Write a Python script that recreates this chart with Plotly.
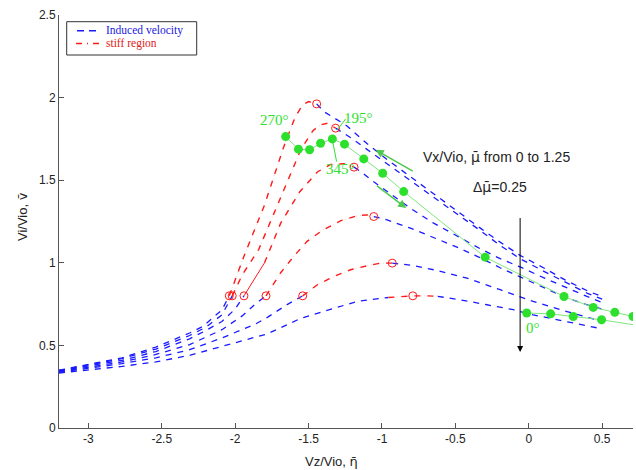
import plotly.graph_objects as go

# ---------------- data ----------------
mu_labels = ["0", "0.25", "0.5", "0.75", "1.0", "1.25"]

# induced velocity, left branches, up to the start of the stiff region
left_x = [
    [-3.2, -3.0, -2.77, -2.54, -2.31, -2.22, -2.165, -2.09, -2.04],
    [-3.2, -3.0, -2.77, -2.54, -2.31, -2.2, -2.09, -2.02],
    [-3.2, -3.0, -2.77, -2.54, -2.31, -2.2, -2.09, -2.0, -1.94],
    [-3.2, -3.0, -2.77, -2.54, -2.31, -2.2, -2.09, -1.95, -1.87, -1.79],
    [-3.2, -3.0, -2.77, -2.54, -2.31, -2.09, -1.86, -1.78, -1.65, -1.54],
    [-3.2, -3.0, -2.77, -2.54, -2.31, -2.09, -1.86, -1.78, -1.55, -1.37, -1.17, -0.956],
]
left_y = [
    [0.35, 0.385, 0.425, 0.49, 0.575, 0.615, 0.655, 0.715, 0.80],
    [0.348, 0.38, 0.42, 0.478, 0.56, 0.61, 0.685, 0.80],
    [0.345, 0.375, 0.41, 0.463, 0.54, 0.59, 0.645, 0.72, 0.80],
    [0.34, 0.37, 0.40, 0.445, 0.505, 0.55, 0.595, 0.68, 0.745, 0.80],
    [0.337, 0.36, 0.39, 0.425, 0.474, 0.545, 0.63, 0.67, 0.745, 0.80],
    [0.333, 0.35, 0.373, 0.40, 0.44, 0.494, 0.55, 0.57, 0.665, 0.715, 0.766, 0.79],
]

# induced velocity, right branches after the stiff region
right_x = [
    [-1.445, -1.395, -1.24, -1.10, -0.965, -0.806, -0.648, -0.489, -0.33, -0.195, -0.059, 0.1, 0.25, 0.4, 0.5],
    [-1.316, -1.2, -1.1, -0.965, -0.806, -0.648, -0.489, -0.33, -0.195, -0.059, 0.1, 0.25, 0.4, 0.5],
    [-1.19, -1.135, -1.056, -0.965, -0.806, -0.648, -0.489, -0.33, -0.195, -0.059, 0.1, 0.25, 0.4, 0.5],
    [-1.056, -0.965, -0.806, -0.648, -0.489, -0.33, -0.195, -0.059, 0.1, 0.25, 0.4, 0.5],
    [-0.93, -0.80, -0.648, -0.42, -0.195, 0.03, 0.26, 0.5],
    [-0.62, -0.467, -0.285, -0.105, 0.03, 0.26, 0.5],
]
right_y = [
    [1.962, 1.915, 1.83, 1.72, 1.625, 1.52, 1.415, 1.315, 1.21, 1.125, 1.045, 0.97, 0.895, 0.83, 0.795],
    [1.815, 1.75, 1.685, 1.60, 1.495, 1.395, 1.295, 1.195, 1.105, 1.025, 0.95, 0.88, 0.815, 0.78],
    [1.579, 1.545, 1.49, 1.43, 1.33, 1.24, 1.16, 1.085, 1.025, 0.975, 0.91, 0.85, 0.795, 0.76],
    [1.28, 1.26, 1.21, 1.155, 1.095, 1.03, 0.97, 0.915, 0.85, 0.79, 0.745, 0.72],
    [0.998, 0.985, 0.958, 0.907, 0.837, 0.766, 0.705, 0.645],
    [0.797, 0.776, 0.746, 0.716, 0.685, 0.645, 0.60],
]

# stiff regions
stiff_x = [
    [-2.04, -1.94, -1.80, -1.67, -1.59, -1.54, -1.50, -1.445],
    [-2.02, -1.95, -1.84, -1.73, -1.63, -1.55, -1.47, -1.42, -1.37, -1.316],
    [-1.80, -1.69, -1.56, -1.44, -1.35, -1.26, -1.19],
    [-1.79, -1.69, -1.60, -1.51, -1.40, -1.28, -1.17, -1.10, -1.056],
    [-1.54, -1.44, -1.327, -1.214, -1.10, -1.01, -0.93],
    [-0.956, -0.87, -0.79, -0.70, -0.62],
]
stiff_y = [
    [0.80, 1.04, 1.35, 1.70, 1.885, 1.956, 1.976, 1.962],
    [0.80, 0.93, 1.08, 1.31, 1.53, 1.69, 1.80, 1.835, 1.845, 1.815],
    [1.0, 1.24, 1.43, 1.55, 1.595, 1.60, 1.579],
    [0.80, 0.94, 1.04, 1.13, 1.20, 1.255, 1.285, 1.29, 1.28],
    [0.80, 0.867, 0.917, 0.958, 0.982, 0.998, 0.998],
    [0.79, 0.797, 0.80, 0.80, 0.797],
]
stiff_solid_x = [-1.94, -1.80]
stiff_solid_y = [0.80, 1.0]

circle_x = [-2.04, -2.02, -1.94, -1.79, -1.54, -1.445, -1.316, -1.19, -1.056, -0.93, -0.79]
circle_y = [0.80, 0.80, 0.80, 0.80, 0.80, 1.962, 1.815, 1.579, 1.28, 0.998, 0.80]

# azimuth trajectory (green)
green_up_x = [-1.656, -1.569, -1.493, -1.418, -1.338, -1.255, -1.124, -0.995, -0.852, -0.297, 0.24, 0.439, 0.586, 0.71]
green_up_y = [1.764, 1.688, 1.684, 1.724, 1.75, 1.718, 1.629, 1.542, 1.431, 1.034, 0.796, 0.730, 0.70, 0.675]
green_lo_x = [-0.014, 0.149, 0.303, 0.496, 0.75]
green_lo_y = [0.696, 0.691, 0.675, 0.655, 0.62]

x_ticks = [-3, -2.5, -2, -1.5, -1, -0.5, 0, 0.5]
x_ticktext = ["-3", "-2.5", "-2", "-1.5", "-1", "-0.5", "0", "0.5"]
y_ticks = [0, 0.5, 1, 1.5, 2, 2.5]
y_ticktext = ["0", "0.5", "1", "1.5", "2", "2.5"]

azimuth_labels = ["270°", "195°", "345°", "0°"]
azimuth_pos = [(-1.735, 1.865), (-1.158, 1.875), (-1.282, 1.567), (0.031, 0.605)]

# ---------------- figure ----------------
W, H = 636, 470
ML, MR, MT, MB = 59, 3, 15, 42
BLUE = "#1a1aff"
RED = "#ff1a1a"
PINK = "#ffc0c0"
GREEN = "#2ee02e"
BAR = lambda c: '<span style="font-family:DejaVu Sans">' + c + '\u0304</span>'
fig = go.Figure()

for i in range(6):
    fig.add_trace(go.Scatter(x=left_x[i], y=left_y[i], mode="lines",
                             line=dict(color=BLUE, width=1.3, dash="6px,6px"),
                             showlegend=False, hoverinfo="skip"))
    fig.add_trace(go.Scatter(x=right_x[i], y=right_y[i], mode="lines",
                             line=dict(color=BLUE, width=1.3, dash="6px,6px"),
                             showlegend=False, hoverinfo="skip"))
    fig.add_trace(go.Scatter(x=stiff_x[i], y=stiff_y[i], mode="lines",
                             line=dict(color=PINK, width=0.8, dash="1px,3px"),
                             showlegend=False, hoverinfo="skip"))
    fig.add_trace(go.Scatter(x=stiff_x[i], y=stiff_y[i], mode="lines",
                             line=dict(color=RED, width=1.4, dash="6px,7px"),
                             showlegend=False, hoverinfo="skip"))

fig.add_trace(go.Scatter(x=stiff_solid_x, y=stiff_solid_y, mode="lines",
                         line=dict(color=RED, width=1), showlegend=False))
fig.add_trace(go.Scatter(x=circle_x, y=circle_y, mode="markers",
                         marker=dict(symbol="circle-open", size=8, color=RED,
                                     line=dict(width=1, color=RED)),
                         showlegend=False))
fig.add_trace(go.Scatter(x=green_up_x, y=green_up_y, mode="lines+markers",
                         line=dict(color="#7ee67e", width=1),
                         marker=dict(size=9, color=GREEN), showlegend=False))
fig.add_trace(go.Scatter(x=green_lo_x, y=green_lo_y, mode="lines+markers",
                         line=dict(color="#7ee67e", width=1),
                         marker=dict(size=9, color=GREEN), showlegend=False))

ann = []
for t, (ax_, ay_) in zip(azimuth_labels, azimuth_pos):
    ann.append(dict(x=ax_, y=ay_, text=t, showarrow=False,
                    font=dict(family="Liberation Serif", size=15, color=GREEN)))

ann.append(dict(x=-0.223, y=1.64, text="Vx/Vio, " + BAR("\u03bc") + " from 0 to 1.25", showarrow=False,
                xanchor="center", yanchor="middle",
                font=dict(family="Liberation Sans", size=14, color="#222")))
ann.append(dict(x=-0.195, y=1.46, text="\u0394" + BAR("\u03bc") + "=0.25", showarrow=False,
                xanchor="center", yanchor="middle",
                font=dict(family="Liberation Sans", size=14, color="#222")))

# arrows
ann.append(dict(x=-0.059, y=0.46, ax=-0.059, ay=1.28, axref="x", ayref="y",
                showarrow=True, arrowhead=2, arrowsize=1.2, arrowwidth=1, arrowcolor="black", text=""))
ann.append(dict(x=-1.044, y=1.684, ax=-0.78, ay=1.55, axref="x", ayref="y",
                showarrow=True, arrowhead=2, arrowsize=1.1, arrowwidth=1.5, arrowcolor="#4fc84f", text=""))
ann.append(dict(x=-0.834, y=1.331, ax=-1.044, ay=1.472, axref="x", ayref="y",
                showarrow=True, arrowhead=2, arrowsize=1.1, arrowwidth=1.5, arrowcolor="#4fc84f", text=""))

# axis titles
pw, ph = W - ML - MR, H - MT - MB
def px2paper(px, py):
    return (px - ML) / pw, (H - MB - py) / ph

xt, yt = px2paper(331, 461)
ann.append(dict(x=xt, y=yt, xref="paper", yref="paper", text="Vz/Vio, " + BAR("\u03b7"),
                xanchor="center", yanchor="middle",
                showarrow=False, font=dict(family="Liberation Sans", size=13, color="#222")))
xt, yt = px2paper(22, 217)
ann.append(dict(x=xt, y=yt, xref="paper", yref="paper", text="Vi/Vio, " + BAR("v"), textangle=-90,
                xanchor="center", yanchor="middle",
                showarrow=False, font=dict(family="Liberation Sans", size=13, color="#222")))

# legend (manual)
shapes = []
x0, y0 = px2paper(66.7, 21.7)
x1, y1 = px2paper(196.7, 55)
shapes.append(dict(type="rect", xref="paper", yref="paper", x0=x0, y0=y1, x1=x1, y1=y0,
                   line=dict(color="#333", width=1), fillcolor="white"))
a0, b0 = px2paper(77, 30.7)
a1, _ = px2paper(97, 30.7)
shapes.append(dict(type="line", xref="paper", yref="paper", x0=a0, y0=b0, x1=a1, y1=b0,
                   line=dict(color=BLUE, width=1.5, dash="7px,5px")))
a0, b1 = px2paper(76, 43.5)
a1, _ = px2paper(99, 43.5)
shapes.append(dict(type="line", xref="paper", yref="paper", x0=a0, y0=b1, x1=a1, y1=b1,
                   line=dict(color=RED, width=1.5, dash="6px,5px,1px,5px")))
tx, _ = px2paper(104, 0)
ann.append(dict(x=tx, y=b0, xref="paper", yref="paper", xanchor="left", yanchor="middle",
                text="Induced velocity",
                showarrow=False, font=dict(family="Liberation Serif", size=11.5, color="#2020e0")))
ann.append(dict(x=tx, y=b1, xref="paper", yref="paper", xanchor="left", yanchor="middle",
                text="stiff region",
                showarrow=False, font=dict(family="Liberation Serif", size=11.5, color="#e02020")))

# label pointer lines
shapes.append(dict(type="line", x0=-1.304, y0=1.805, x1=-1.248, y1=1.87,
                   line=dict(color=GREEN, width=1)))
shapes.append(dict(type="line", x0=-1.338, y0=1.744, x1=-1.309, y1=1.613,
                   line=dict(color=GREEN, width=1)))

fig.update_layout(
    width=W, height=H, margin=dict(l=ML, r=MR, t=MT, b=MB),
    paper_bgcolor="white", plot_bgcolor="white",
    annotations=ann, shapes=shapes, showlegend=False,
    xaxis=dict(range=[-3.2, 0.71], tickvals=x_ticks, ticktext=x_ticktext,
               showgrid=False, zeroline=False, showline=True, linecolor="#555", linewidth=1,
               ticks="inside", ticklen=5, tickcolor="#555",
               tickfont=dict(family="Liberation Sans", size=12, color="#222")),
    yaxis=dict(range=[0, 2.5], tickvals=y_ticks, ticktext=y_ticktext,
               showgrid=False, zeroline=False, showline=True, linecolor="#555", linewidth=1,
               ticks="inside", ticklen=5, tickcolor="#555",
               tickfont=dict(family="Liberation Sans", size=12, color="#222")),
)

fig.write_html("out.html")
